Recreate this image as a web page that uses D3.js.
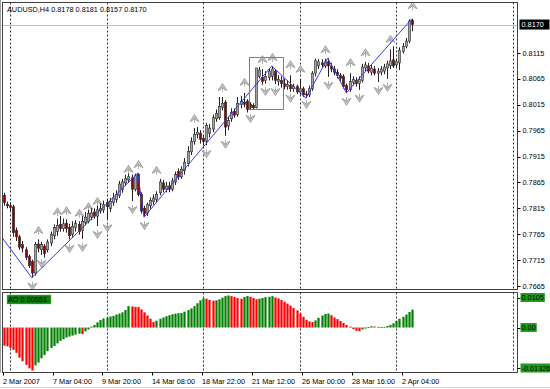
<!DOCTYPE html>
<html>
<head>
<meta charset="utf-8">
<script src="https://cdn.jsdelivr.net/npm/d3@7"></script>
<style>
  body { margin: 0; background: #fff; }
  svg { display: block; font-family: "Liberation Sans", Arial, sans-serif; }
</style>
</head>
<body>
<div id="chart"></div>
<script>
const symbol = "AUDUSD,H4";
const lastQuote = [0.8178, 0.8181, 0.8157, 0.8170];

// H4 candles, bar 0 .. 131
const opens = [
  0.7840, 0.7823, 0.7820, 0.7818, 0.7772, 0.7760, 0.7745, 0.7735, 0.7722, 0.7712,
  0.7690, 0.7746, 0.7735, 0.7742, 0.7735, 0.7748, 0.7762, 0.7770, 0.7784, 0.7776,
  0.7786, 0.7778, 0.7765, 0.7778, 0.7784, 0.7772, 0.7788, 0.7790, 0.7798, 0.7808,
  0.7800, 0.7810, 0.7812, 0.7826, 0.7815, 0.7826, 0.7832, 0.7840, 0.7852, 0.7864,
  0.7870, 0.7874, 0.7852, 0.7880, 0.7842, 0.7815, 0.7806, 0.7820, 0.7828, 0.7832,
  0.7845, 0.7864, 0.7852, 0.7858, 0.7852, 0.7866, 0.7886, 0.7876, 0.7888, 0.7902,
  0.7924, 0.7944, 0.7958, 0.7960, 0.7950, 0.7945, 0.7960, 0.7968, 0.7988, 0.7990,
  0.8010, 0.8020, 0.7974, 0.7988, 0.8002, 0.7996, 0.8016, 0.8020, 0.8022, 0.8016,
  0.8014, 0.8010, 0.8070, 0.8068, 0.8062, 0.8068, 0.8070, 0.8080, 0.8060, 0.8062,
  0.8056, 0.8050, 0.8052, 0.8046, 0.8050, 0.8040, 0.8046, 0.8036, 0.8034, 0.8046,
  0.8076, 0.8090, 0.8096, 0.8090, 0.8098, 0.8090, 0.8084, 0.8078, 0.8072, 0.8070,
  0.8052, 0.8044, 0.8058, 0.8062, 0.8056, 0.8062, 0.8086, 0.8090, 0.8078, 0.8084,
  0.8076, 0.8078, 0.8080, 0.8086, 0.8090, 0.8102, 0.8092, 0.8096, 0.8118, 0.8128,
  0.8138, 0.8178
];
const highs = [
  0.7845, 0.7828, 0.7826, 0.7822, 0.7778, 0.7764, 0.7752, 0.7740, 0.7726, 0.7716,
  0.7750, 0.7755, 0.7750, 0.7746, 0.7755, 0.7770, 0.7784, 0.7795, 0.7800, 0.7795,
  0.7794, 0.7785, 0.7790, 0.7792, 0.7790, 0.7800, 0.7808, 0.7812, 0.7815, 0.7815,
  0.7820, 0.7825, 0.7830, 0.7832, 0.7835, 0.7845, 0.7850, 0.7868, 0.7872, 0.7880,
  0.7882, 0.7880, 0.7882, 0.7883, 0.7846, 0.7820, 0.7826, 0.7836, 0.7842, 0.7848,
  0.7872, 0.7870, 0.7866, 0.7866, 0.7874, 0.7886, 0.7892, 0.7896, 0.7912, 0.7935,
  0.7952, 0.7970, 0.7972, 0.7966, 0.7956, 0.7980, 0.7978, 0.7996, 0.8006, 0.8030,
  0.8030, 0.8024, 0.7992, 0.8008, 0.8008, 0.8030, 0.8032, 0.8038, 0.8026, 0.8020,
  0.8018, 0.8086, 0.8088, 0.8084, 0.8080, 0.8086, 0.8090, 0.8084, 0.8072, 0.8070,
  0.8066, 0.8062, 0.8072, 0.8056, 0.8054, 0.8064, 0.8050, 0.8042, 0.8052, 0.8080,
  0.8104, 0.8103, 0.8103, 0.8104, 0.8105, 0.8096, 0.8090, 0.8084, 0.8076, 0.8074,
  0.8056, 0.8076, 0.8070, 0.8068, 0.8070, 0.8094, 0.8098, 0.8096, 0.8092, 0.8090,
  0.8086, 0.8090, 0.8094, 0.8100, 0.8122, 0.8128, 0.8104, 0.8126, 0.8134, 0.8144,
  0.8180, 0.8181
];
const lows = [
  0.7820, 0.7815, 0.7810, 0.7760, 0.7752, 0.7735, 0.7730, 0.7715, 0.7700, 0.7681,
  0.7685, 0.7730, 0.7725, 0.7720, 0.7730, 0.7742, 0.7755, 0.7762, 0.7770, 0.7770,
  0.7768, 0.7755, 0.7760, 0.7770, 0.7764, 0.7756, 0.7782, 0.7786, 0.7792, 0.7795,
  0.7781, 0.7805, 0.7806, 0.7794, 0.7808, 0.7820, 0.7826, 0.7835, 0.7845, 0.7858,
  0.7864, 0.7829, 0.7848, 0.7838, 0.7805, 0.7798, 0.7800, 0.7814, 0.7822, 0.7826,
  0.7840, 0.7846, 0.7846, 0.7846, 0.7848, 0.7860, 0.7870, 0.7872, 0.7880, 0.7896,
  0.7918, 0.7938, 0.7950, 0.7940, 0.7936, 0.7937, 0.7952, 0.7962, 0.7982, 0.7986,
  0.8004, 0.7955, 0.7966, 0.7982, 0.7990, 0.7992, 0.8008, 0.8010, 0.8000, 0.8005,
  0.8007, 0.8008, 0.8066, 0.8054, 0.8056, 0.8062, 0.8062, 0.8055, 0.8052, 0.8048,
  0.8045, 0.8044, 0.8040, 0.8040, 0.8036, 0.8034, 0.8030, 0.8028, 0.8030, 0.8042,
  0.8070, 0.8084, 0.8086, 0.8086, 0.8069, 0.8078, 0.8072, 0.8066, 0.8060, 0.8046,
  0.8038, 0.8040, 0.8052, 0.8050, 0.8044, 0.8058, 0.8080, 0.8076, 0.8072, 0.8072,
  0.8059, 0.8072, 0.8074, 0.8065, 0.8084, 0.8086, 0.8088, 0.8082, 0.8114, 0.8124,
  0.8134, 0.8157
];
const closes = [
  0.7826, 0.7820, 0.7817, 0.7768, 0.7760, 0.7740, 0.7738, 0.7720, 0.7704, 0.7690,
  0.7745, 0.7738, 0.7745, 0.7728, 0.7750, 0.7765, 0.7778, 0.7782, 0.7776, 0.7785,
  0.7776, 0.7762, 0.7780, 0.7786, 0.7770, 0.7790, 0.7798, 0.7805, 0.7806, 0.7800,
  0.7812, 0.7815, 0.7822, 0.7818, 0.7828, 0.7835, 0.7842, 0.7862, 0.7866, 0.7872,
  0.7876, 0.7852, 0.7878, 0.7842, 0.7810, 0.7805, 0.7822, 0.7830, 0.7835, 0.7842,
  0.7866, 0.7852, 0.7858, 0.7852, 0.7868, 0.7880, 0.7876, 0.7890, 0.7904, 0.7925,
  0.7944, 0.7958, 0.7962, 0.7948, 0.7944, 0.7975, 0.7970, 0.7990, 0.7998, 0.8012,
  0.8018, 0.7972, 0.7985, 0.8000, 0.7995, 0.8018, 0.8022, 0.8016, 0.8006, 0.8010,
  0.8009, 0.8086, 0.8082, 0.8060, 0.8070, 0.8080, 0.8084, 0.8062, 0.8064, 0.8056,
  0.8050, 0.8054, 0.8046, 0.8050, 0.8040, 0.8046, 0.8034, 0.8034, 0.8046, 0.8076,
  0.8100, 0.8098, 0.8092, 0.8098, 0.8090, 0.8084, 0.8078, 0.8072, 0.8066, 0.8050,
  0.8044, 0.8060, 0.8064, 0.8056, 0.8064, 0.8088, 0.8092, 0.8080, 0.8086, 0.8076,
  0.8080, 0.8084, 0.8088, 0.8094, 0.8100, 0.8090, 0.8098, 0.8120, 0.8128, 0.8138,
  0.8176, 0.8170
];

// Awesome Oscillator, one value per bar
const aoValues = [
  -0.0056, -0.0058, -0.0063, -0.0069, -0.0078, -0.0093, -0.0104, -0.0115, -0.0126, -0.01326,
  -0.0117, -0.0108, -0.0095, -0.0085, -0.0073, -0.0063, -0.0057, -0.0049, -0.0041, -0.0036,
  -0.0031, -0.0028, -0.0025, -0.0022, -0.0019, -0.0020, -0.0012, -0.0006, 0.0003, 0.0008,
  0.0016, 0.0023, 0.0028, 0.0030, 0.0034, 0.0036, 0.0040, 0.0043, 0.0047, 0.0054,
  0.0066, 0.0065, 0.0064, 0.0063, 0.0056, 0.0047, 0.0037, 0.0027, 0.0017, 0.0021,
  0.0027, 0.0031, 0.0035, 0.0038, 0.0041, 0.0043, 0.0044, 0.0045, 0.0049, 0.0054,
  0.0059, 0.0066, 0.0075, 0.0084, 0.0090, 0.0089, 0.0085, 0.0083, 0.0084, 0.0087,
  0.0092, 0.0097, 0.0099, 0.0097, 0.0094, 0.0091, 0.0089, 0.0094, 0.0097, 0.0095,
  0.0091, 0.0087, 0.0089, 0.0091, 0.0094, 0.0095, 0.0097, 0.0093, 0.0090, 0.0085,
  0.0080, 0.0074, 0.0068, 0.0060, 0.0053, 0.0043, 0.0033, 0.0024, 0.0019, 0.0017,
  0.0022, 0.0030, 0.0037, 0.0042, 0.0043, 0.0038, 0.0031, 0.0026, 0.0020, 0.0014,
  0.0008, 0.0003, -0.0005, -0.0010, -0.0011, -0.0006, -0.0003, 0.0001, 0.0004, 0.0003,
  0.0002, 0.0001, 0.0002, 0.0005, 0.0008, 0.0013, 0.0020, 0.0027, 0.0033, 0.0040,
  0.0048, 0.00551
];
const aoMax = 0.0105;
const aoMin = -0.01326;

// Fractals (bar index, price)
const upFractalBars = [11, 17, 20, 24, 27, 30, 40, 43, 49, 61, 70, 77, 83, 86, 92, 95, 103, 111, 116, 124, 131];
const upFractalPrices = [0.7756, 0.7792, 0.7794, 0.7789, 0.7802, 0.7812, 0.7874, 0.7883, 0.7872, 0.7972,
  0.8032, 0.8042, 0.8086, 0.8090, 0.8076, 0.8067, 0.8105, 0.8080, 0.8099, 0.8125, 0.8190];
const downFractalBars = [9, 12, 21, 25, 30, 33, 41, 45, 65, 71, 79, 84, 87, 92, 97, 104, 110, 114, 120, 123];
const downFractalPrices = [0.7681, 0.7725, 0.7754, 0.7756, 0.7781, 0.7794, 0.7829, 0.7798, 0.7937, 0.7955,
  0.8005, 0.8057, 0.8057, 0.8044, 0.8032, 0.8069, 0.8038, 0.8044, 0.8059, 0.8065];

// ZigZag vertices (bar index, price)
const zigzagBars = [-1, 9, 43, 45, 86, 97, 104, 110, 131];
const zigzagPrices = [0.7762, 0.7681, 0.7883, 0.7798, 0.8090, 0.8028, 0.8105, 0.8038, 0.8181];

// rectangle object
const boxBars = [79, 90];
const boxPrices = [0.8107, 0.8007];

const priceTicks = [0.8115, 0.8065, 0.8015, 0.7965, 0.7915, 0.7865, 0.7815, 0.7765, 0.7715, 0.7665];
const timeLabelBars = [0, 16, 32, 48, 64, 80, 96, 112, 128];
const timeLabelTexts = ["2 Mar 2007", "7 Mar 04:00", "9 Mar 20:00", "14 Mar 08:00", "18 Mar 22:00",
  "21 Mar 12:00", "26 Mar 00:00", "28 Mar 16:00", "2 Apr 04:00"];
const gridBars = [2, 33, 64, 95, 126];

const width = 550;
const height = 389;
const left = 2.5;
const right = 517.5;
const mainTop = 2.5;
const mainBottom = 289.5;
const aoTop = 292.5;
const aoBottom = 372.5;
const fontSize = "7.3px";

const svg = d3
  .select("#chart")
  .append("svg")
  .attr("width", width)
  .attr("height", height);

svg.append("rect").attr("width", width).attr("height", height).attr("fill", "#fff");

const x = d3.scaleLinear().domain([0, 131]).range([3.8, 3.8 + 131 * 3.115]);
const y = d3.scaleLinear().domain([0.76592, 0.82135]).range([289, 2]);
const yAo = d3.scaleLinear().domain([aoMin, aoMax]).range([370.5, 293.5]);

svg.append("clipPath").attr("id", "clipMain")
  .append("rect").attr("x", left).attr("y", mainTop).attr("width", right - left).attr("height", mainBottom - mainTop);

// vertical dotted grid, both panels
const gridX = gridBars.map((b) => Math.round(x(b)) + 0.5).concat([513.5]);
[[mainTop, mainBottom], [aoTop, aoBottom]].forEach(([t, b]) => {
  svg.append("g")
    .selectAll("line")
    .data(gridX)
    .enter()
    .append("line")
    .attr("x1", (d) => d).attr("x2", (d) => d)
    .attr("y1", t).attr("y2", b)
    .attr("stroke", "#333")
    .attr("stroke-dasharray", "2,2");
});

// bid line
svg.append("line")
  .attr("x1", left).attr("x2", right)
  .attr("y1", Math.round(y(lastQuote[3])) + 0.5).attr("y2", Math.round(y(lastQuote[3])) + 0.5)
  .attr("stroke", "#c0c0c0");

const main = svg.append("g").attr("clip-path", "url(#clipMain)");

// fractal arrows (drawn under candles)
const upArrow = "M0,-4.5 L4.5,2.5 L1.6,1.2 L0,-1 L-1.6,1.2 L-4.5,2.5 Z M0,-0.5 L0,4";
const downArrow = "M0,4.5 L4.5,-2.5 L1.6,-1.2 L0,1 L-1.6,-1.2 L-4.5,-2.5 Z M0,0.5 L0,-4";

main.append("g")
  .selectAll("path")
  .data(upFractalBars)
  .enter()
  .append("path")
  .attr("d", upArrow)
  .attr("transform", (d, k) => `translate(${Math.round(x(d)) + 0.5},${y(upFractalPrices[k]) - 8})`)
  .attr("fill", "#c4c4c4")
  .attr("stroke", "#8c8c8c")
  .attr("stroke-width", 0.7);

main.append("g")
  .selectAll("path")
  .data(downFractalBars)
  .enter()
  .append("path")
  .attr("d", downArrow)
  .attr("transform", (d, k) => `translate(${Math.round(x(d)) + 0.5},${y(downFractalPrices[k]) + 8})`)
  .attr("fill", "#c4c4c4")
  .attr("stroke", "#8c8c8c")
  .attr("stroke-width", 0.7);

// candles
const bars = d3.range(opens.length).map((i) => ({
  i, o: opens[i], h: highs[i], l: lows[i], c: closes[i],
}));

main.append("g")
  .selectAll("line")
  .data(bars)
  .enter()
  .append("line")
  .attr("x1", (d) => Math.round(x(d.i)) + 0.5)
  .attr("x2", (d) => Math.round(x(d.i)) + 0.5)
  .attr("y1", (d) => y(d.h))
  .attr("y2", (d) => y(d.l))
  .attr("stroke", "#222");

main.append("g")
  .selectAll("rect")
  .data(bars)
  .enter()
  .append("rect")
  .attr("x", (d) => Math.round(x(d.i)) - 0.7)
  .attr("width", 2.4)
  .attr("y", (d) => y(Math.max(d.o, d.c)))
  .attr("height", (d) => Math.max(1, Math.abs(y(d.o) - y(d.c))))
  .attr("fill", (d) => (d.c >= d.o ? "#a4a4a4" : "#8b0000"))
  .attr("stroke", "#333")
  .attr("stroke-width", 0.6);

// zigzag
main.append("path")
  .datum(zigzagBars.map((b, k) => [x(b), y(zigzagPrices[k])]))
  .attr("d", d3.line())
  .attr("fill", "none")
  .attr("stroke", "#3a3af0")
  .attr("stroke-width", 1);

// rectangle
main.append("rect")
  .attr("x", Math.round(x(boxBars[0])) - 0.5)
  .attr("y", Math.round(y(boxPrices[0])) + 0.5)
  .attr("width", Math.round(x(boxBars[1]) - x(boxBars[0])))
  .attr("height", Math.round(y(boxPrices[1]) - y(boxPrices[0])))
  .attr("fill", "none")
  .attr("stroke", "#808080");

// AO histogram
svg.append("g")
  .selectAll("rect")
  .data(aoValues)
  .enter()
  .append("rect")
  .attr("x", (d, i) => Math.round(x(i)) - 0.6)
  .attr("width", 2.2)
  .attr("y", (d) => Math.min(yAo(d), yAo(0)))
  .attr("height", (d) => Math.max(0.8, Math.abs(yAo(d) - yAo(0))))
  .attr("fill", (d, i) => (i > 0 && d > aoValues[i - 1] ? "#008000" : "#ff0000"));

// panel frames
svg.append("rect")
  .attr("x", left).attr("y", mainTop)
  .attr("width", right - left).attr("height", mainBottom - mainTop)
  .attr("fill", "none").attr("stroke", "#404040");
svg.append("rect")
  .attr("x", left).attr("y", aoTop)
  .attr("width", right - left).attr("height", aoBottom - aoTop)
  .attr("fill", "none").attr("stroke", "#404040");
svg.append("line")
  .attr("x1", 0.5).attr("x2", 0.5).attr("y1", 0).attr("y2", aoBottom)
  .attr("stroke", "#a0a0a0");

// price axis
const priceAxis = svg.append("g");
priceAxis.selectAll("line")
  .data(priceTicks)
  .enter()
  .append("line")
  .attr("x1", right).attr("x2", right + 3)
  .attr("y1", (d) => Math.round(y(d)) + 0.5).attr("y2", (d) => Math.round(y(d)) + 0.5)
  .attr("stroke", "#000");
priceAxis.selectAll("text")
  .data(priceTicks)
  .enter()
  .append("text")
  .attr("x", right + 5)
  .attr("y", (d) => y(d))
  .attr("dy", "0.35em")
  .style("font-size", fontSize)
  .attr("fill", "#000")
  .text((d) => d.toFixed(4));

const bidY = y(lastQuote[3]);
svg.append("rect")
  .attr("x", right + 2).attr("y", bidY - 5)
  .attr("width", 30).attr("height", 10)
  .attr("fill", "#000");
svg.append("text")
  .attr("x", right + 4).attr("y", bidY).attr("dy", "0.35em")
  .style("font-size", fontSize)
  .attr("fill", "#fff")
  .text(lastQuote[3].toFixed(4));

// AO scale labels
const aoLabels = [
  { v: aoMax, text: "0.0105" },
  { v: 0, text: "0.00" },
  { v: aoMin, text: "-0.01326" },
];
aoLabels.forEach((d) => {
  const cy = Math.max(297.5, Math.min(368, yAo(d.v)));
  svg.append("line")
    .attr("x1", right).attr("x2", right + 3)
    .attr("y1", Math.round(cy) + 0.5).attr("y2", Math.round(cy) + 0.5)
    .attr("stroke", "#000");
  const t = svg.append("text")
    .attr("x", right + 4).attr("y", cy).attr("dy", "0.35em")
    .style("font-size", fontSize)
    .attr("fill", "#000")
    .text(d.text);
  const w = t.node().getComputedTextLength();
  svg.insert("rect", () => t.node())
    .attr("x", right + 3).attr("y", cy - 4.5)
    .attr("width", w + 2).attr("height", 9)
    .attr("fill", "#1e9a1e");
});

// AO name box
const aoName = svg.append("text")
  .attr("x", 8).attr("y", 299.5).attr("dy", "0.35em")
  .style("font-size", fontSize)
  .attr("fill", "#000")
  .text("AO " + aoValues[aoValues.length - 1].toFixed(5));
svg.insert("rect", () => aoName.node())
  .attr("x", 7).attr("y", 295)
  .attr("width", 44).attr("height", 9)
  .attr("fill", "#0a800a")
  .attr("stroke", "#7fc07f")
  .attr("stroke-width", 0.5);

// time axis
const timeAxis = svg.append("g");
timeAxis.selectAll("line")
  .data(timeLabelBars)
  .enter()
  .append("line")
  .attr("x1", (d) => Math.round(x(d)) - 0.5).attr("x2", (d) => Math.round(x(d)) - 0.5)
  .attr("y1", aoBottom).attr("y2", aoBottom + 3)
  .attr("stroke", "#000");
timeAxis.selectAll("text")
  .data(timeLabelBars)
  .enter()
  .append("text")
  .attr("x", (d) => Math.round(x(d)) - 1)
  .attr("y", 384)
  .style("font-size", fontSize)
  .attr("fill", "#000")
  .text((d, k) => timeLabelTexts[k]);

// header
svg.append("text")
  .attr("x", 7).attr("y", 12)
  .style("font-size", fontSize)
  .attr("fill", "#000")
  .text(symbol + "  " + lastQuote.map((v) => v.toFixed(4)).join(" "));

svg.append("line")
  .attr("x1", 0).attr("x2", width).attr("y1", 387.5).attr("y2", 387.5)
  .attr("stroke", "#d0d0d0");
</script>
</body>
</html>
